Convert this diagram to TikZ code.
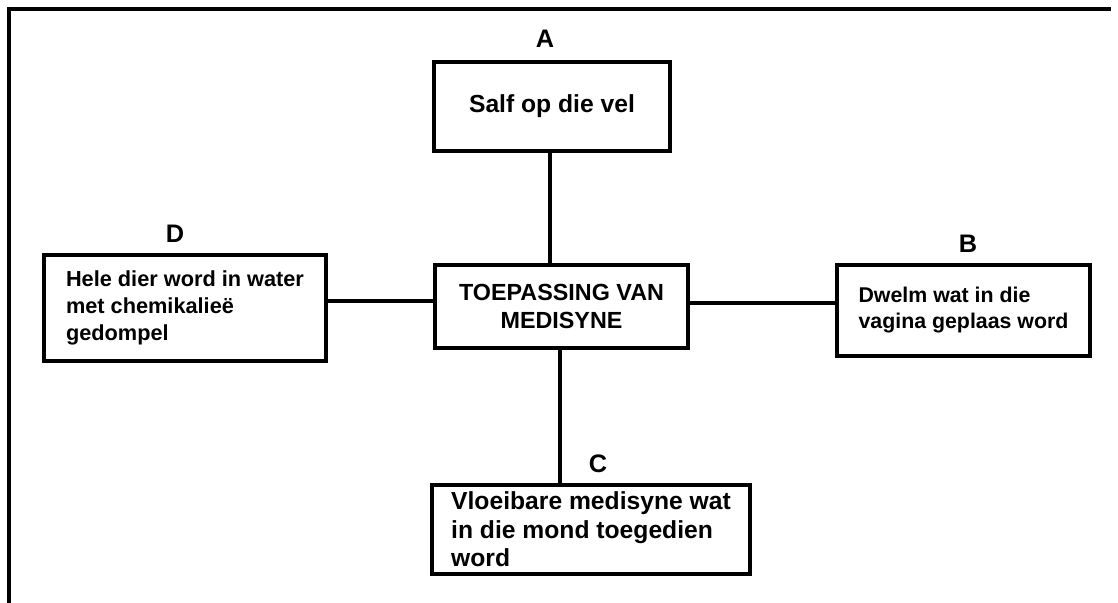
\documentclass[tikz,border=0pt]{standalone}
\usepackage{fontspec}
\setmainfont{Liberation Sans}

\begin{document}
\begin{tikzpicture}[x=0.75pt, y=-0.75pt]
    \tikzset{BoxStyle/.style = {draw,
                                line width   = 3pt,
                                align        = left,
                                inner sep    = 0pt}}
    \tikzset{LetterStyle/.style = {font = \bfseries\fontsize{19}{22}\selectfont}}
    \tikzset{LinkStyle/.style = {line width = 3pt}}
    \useasboundingbox (0,0) rectangle (1118,603);
    % frame
    \draw[line width = 3pt] (9,603) -- (9,8.5) -- (1111,8.5);
    % boxes
    \node[BoxStyle, align = center, minimum width = 189.75pt, minimum height = 62.25pt,
          font = \bfseries\fontsize{17.5}{21}\selectfont] (hub) at (561.5,306.5)
          {TOEPASSING VAN\\MEDISYNE};
    \node[BoxStyle, minimum width = 177pt, minimum height = 66.75pt,
          font = \bfseries\fontsize{18.5}{21.5}\selectfont] (A) at (552,106.5)
          {Salf op die vel};
    \node[BoxStyle, minimum width = 189.75pt, minimum height = 68.25pt,
          font = \bfseries\fontsize{16}{19.5}\selectfont] (B) at (963.5,310.5)
          {Dwelm wat in die\\vagina geplaas word};
    \node[BoxStyle, minimum width = 238.5pt, minimum height = 66.75pt,
          font = \bfseries\fontsize{18.5}{21.25}\selectfont] (C) at (591,529.5)
          {Vloeibare medisyne wat\\in die mond toegedien\\word};
    \node[BoxStyle, minimum width = 211.5pt, minimum height = 79.5pt,
          font = \bfseries\fontsize{16.3}{20}\selectfont] (D) at (185,308)
          {Hele dier word in water\\met chemikalieë\\gedompel};
    % letters
    \node[LetterStyle] (labA) at (545,39)  {A};
    \node[LetterStyle] (labB) at (968,244) {B};
    \node[LetterStyle] (labC) at (598,464) {C};
    \node[LetterStyle] (labD) at (175,234) {D};
    % links
    \draw[LinkStyle] ([xshift=-1.5pt]A.south) -- ([xshift=-1.5pt]A.south |- hub.north);
    \draw[LinkStyle] ([xshift=-1.5pt]hub.south) -- ([xshift=-1.5pt]hub.south |- C.north);
    \draw[LinkStyle] ([yshift=5pt]D.east) -- ([yshift=5pt]D.east -| hub.west);
    \draw[LinkStyle] ([yshift=3pt]hub.east) -- ([yshift=3pt]hub.east -| B.west);
\end{tikzpicture}
\end{document}
